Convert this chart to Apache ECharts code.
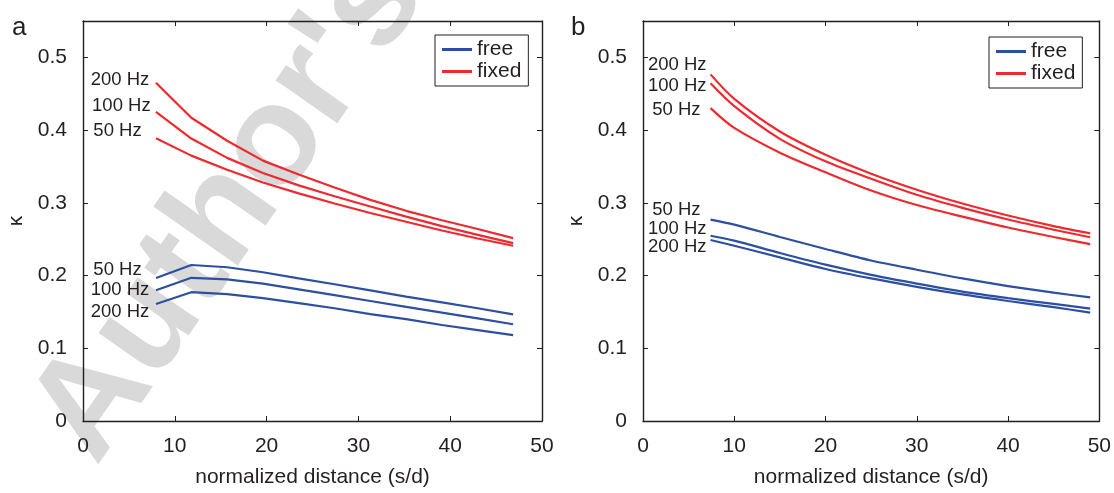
<!DOCTYPE html>
<html>
<head>
<meta charset="utf-8">
<script src="https://cdn.jsdelivr.net/npm/echarts@6/dist/echarts.min.js"></script>
<style>
  html, body { margin: 0; padding: 0; background: #ffffff; }
  #chart { width: 1114px; height: 493px; }
</style>
</head>
<body>
<div id="chart"></div>
<script>
// ---------- data ----------
const yTicks = [0, 0.1, 0.2, 0.3, 0.4, 0.5];
const xTicks = [0, 10, 20, 30, 40, 50];

// panel a
const aX        = [7.95, 11.8, 15.7, 19.6, 23.5, 27.4, 31.3, 35.2, 39.1, 43.0, 46.85];
const aFixed200 = [0.4652, 0.4170, 0.3853, 0.358, 0.339, 0.321, 0.304, 0.289, 0.276, 0.264, 0.2515];
const aFixed100 = [0.4249, 0.3884, 0.3618, 0.341, 0.324, 0.309, 0.295, 0.281, 0.268, 0.256, 0.2445];
const aFixed50  = [0.3889, 0.3649, 0.3455, 0.328, 0.313, 0.299, 0.286, 0.274, 0.262, 0.251, 0.2410];
const aFree50   = [0.1965, 0.2145, 0.2114, 0.2045, 0.196, 0.188, 0.1795, 0.171, 0.163, 0.155, 0.1465];
const aFree100  = [0.1798, 0.1969, 0.1947, 0.189, 0.181, 0.173, 0.165, 0.157, 0.149, 0.141, 0.133];
const aFree200  = [0.1608, 0.1771, 0.1744, 0.169, 0.162, 0.155, 0.147, 0.140, 0.132, 0.125, 0.118];

// panel b
const bX        = [7.4, 10, 15, 20, 25, 30, 35, 40, 45, 49];
const bFixed200 = [0.4766, 0.443, 0.398, 0.366, 0.340, 0.318, 0.299, 0.2825, 0.268, 0.258];
const bFixed100 = [0.4644, 0.433, 0.388, 0.357, 0.333, 0.311, 0.293, 0.277, 0.263, 0.2527];
const bFixed50  = [0.4302, 0.403, 0.369, 0.342, 0.317, 0.297, 0.281, 0.266, 0.253, 0.2432];
const bFree50   = [0.2769, 0.270, 0.253, 0.2365, 0.2207, 0.208, 0.196, 0.1855, 0.1765, 0.170];
const bFree100  = [0.2547, 0.248, 0.231, 0.215, 0.201, 0.189, 0.178, 0.169, 0.161, 0.1545];
const bFree200  = [0.2488, 0.241, 0.225, 0.209, 0.196, 0.1845, 0.174, 0.165, 0.1565, 0.149];

const legendNames = ['free', 'fixed'];
const freqLabels = { f50: '50 Hz', f100: '100 Hz', f200: '200 Hz' };

// ---------- styling ----------
const RED = '#ee2a2f';
const BLUE = '#2d4fa2';
const INK = '#231f20';
const FONT = 'Liberation Sans, Arial, sans-serif';

function zip(xs, ys) { return xs.map((x, i) => [x, ys[i]]); }

function mkSeries(name, color, xs, ys, label, off, axisIdx, smooth) {
  return {
    type: 'line', name: name,
    xAxisIndex: axisIdx, yAxisIndex: axisIdx,
    data: zip(xs, ys),
    showSymbol: false, symbol: 'none', smooth: smooth,
    lineStyle: { color: color, width: 2.2 },
    itemStyle: { color: color },
    emphasis: { disabled: true },
    markPoint: {
      symbol: 'circle', symbolSize: 0, silent: true,
      data: [{ coord: [xs[0], ys[0]] }],
      label: {
        show: true, position: 'left', distance: 0, offset: off,
        formatter: label, color: INK, fontSize: 18.5, fontFamily: FONT
      }
    }
  };
}

function xAx(grid, pos, labels) {
  return {
    type: 'value', gridIndex: grid, position: pos, min: 0, max: 50, interval: 10,
    axisLine: { show: true, onZero: false, lineStyle: { color: INK, width: 1.4 } },
    axisTick: { show: true, inside: true, length: 5, lineStyle: { color: INK, width: 1 } },
    axisLabel: { show: labels, margin: 15, fontSize: 21, color: INK, fontFamily: FONT },
    splitLine: { show: false },
    name: labels ? 'normalized distance (s/d)' : '',
    nameLocation: 'middle', nameGap: 46,
    nameTextStyle: { fontSize: 21, color: INK, fontFamily: FONT }
  };
}
function yAx(grid, pos, labels) {
  return {
    type: 'value', gridIndex: grid, position: pos, min: 0, max: 0.55,
    axisLine: { show: true, onZero: false, lineStyle: { color: INK, width: 1.4 } },
    axisTick: { show: true, inside: true, length: 5, customValues: yTicks, lineStyle: { color: INK, width: 1 } },
    axisLabel: { show: labels, margin: 16, fontSize: 21, color: INK, fontFamily: FONT, customValues: yTicks },
    splitLine: { show: false },
    name: labels ? 'κ' : '',
    nameLocation: 'middle', nameGap: 56, nameRotate: 90,
    nameTextStyle: { fontSize: 21, color: INK, fontFamily: FONT }
  };
}

function mkLegend(left, top) {
  return {
    left: left, top: top, orient: 'vertical', data: legendNames,
    icon: 'rect', itemWidth: 30, itemHeight: 3, itemGap: 1,
    padding: [4, 7, 4, 7],
    borderColor: INK, borderWidth: 1, backgroundColor: '#fff',
    textStyle: { fontSize: 21, color: INK, fontFamily: FONT },
    selectedMode: false
  };
}

const option = {
  animation: false,
  backgroundColor: '#ffffff',
  grid: [
    { left: 83, top: 21, width: 459, height: 405, containLabel: false },
    { left: 643, top: 21, width: 458, height: 405, containLabel: false }
  ],
  xAxis: [xAx(0, 'bottom', true), xAx(0, 'top', false), xAx(1, 'bottom', true), xAx(1, 'top', false)],
  yAxis: [yAx(0, 'left', true), yAx(0, 'right', false), yAx(1, 'left', true), yAx(1, 'right', false)],
  legend: [mkLegend(435, 35), mkLegend(989, 37)],
  graphic: [
    { type: 'text', z: -10, x: 230, y: 208, rotation: 55 * Math.PI / 180, silent: true,
      style: { text: "Author's", fontSize: 142, fontWeight: 'bold', fontFamily: FONT, fill: '#d9d9d9',
               align: 'center', verticalAlign: 'middle' } },
    { type: 'text', x: 12, y: 28, style: { text: 'a', fontSize: 26, fontFamily: FONT, fill: INK, verticalAlign: 'middle' } },
    { type: 'text', x: 571, y: 28, style: { text: 'b', fontSize: 26, fontFamily: FONT, fill: INK, verticalAlign: 'middle' } }
  ],
  series: [
    mkSeries('fixed', RED, aX, aFixed200, freqLabels.f200, [-6.7, -2.7], 0, false),
    mkSeries('fixed', RED, aX, aFixed100, freqLabels.f100, [-5.3, -6.2], 0, false),
    mkSeries('fixed', RED, aX, aFixed50,  freqLabels.f50,  [-14.3, -7.3], 0, false),
    mkSeries('free',  BLUE, aX, aFree50,  freqLabels.f50,  [-14.3, -8.3], 0, false),
    mkSeries('free',  BLUE, aX, aFree100, freqLabels.f100, [-6.7, 0], 0, false),
    mkSeries('free',  BLUE, aX, aFree200, freqLabels.f200, [-6.7, 7.7], 0, false),
    mkSeries('fixed', RED, bX, bFixed200, freqLabels.f200, [-4, -9.8], 2, 0.3),
    mkSeries('fixed', RED, bX, bFixed100, freqLabels.f100, [-4, 3], 2, 0.3),
    mkSeries('fixed', RED, bX, bFixed50,  freqLabels.f50,  [-10, 1.4], 2, 0.3),
    mkSeries('free',  BLUE, bX, bFree50,  freqLabels.f50,  [-10, -9.4], 2, 0.3),
    mkSeries('free',  BLUE, bX, bFree100, freqLabels.f100, [-4, -6.6], 2, 0.3),
    mkSeries('free',  BLUE, bX, bFree200, freqLabels.f200, [-4, 7.3], 2, 0.3)
  ]
};

const chart = echarts.init(document.getElementById('chart'), null, { renderer: 'canvas' });
chart.setOption(option);
</script>
</body>
</html>
